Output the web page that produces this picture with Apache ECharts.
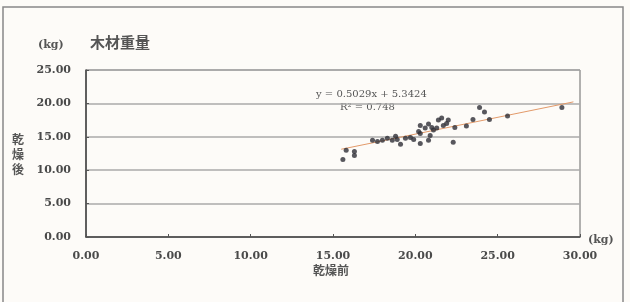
<!DOCTYPE html>
<html>
<head>
<meta charset="utf-8">
<script src="https://cdn.jsdelivr.net/npm/echarts@6/dist/echarts.min.js"></script>
<style>
  html, body { margin: 0; padding: 0; background: #fdfbf8; }
  #chart { width: 630px; height: 302px; }
</style>
</head>
<body>
<div id="chart"></div>
<script>
// weight before drying (x) / after drying (y), kg
const beforeDry = [15.6, 15.8, 16.3, 16.3, 17.4, 17.7, 18.0, 18.3, 18.6, 18.9, 19.1, 19.4, 19.9, 20.3, 20.8,
  20.2, 20.3, 20.6, 20.8, 21.0, 21.1, 21.4, 21.6, 21.7, 21.9, 22.0, 22.4, 22.3, 23.1, 23.5,
  23.9, 24.2, 24.5, 25.6, 28.9, 20.3, 20.9, 21.3, 19.7, 18.8];
const afterDry = [11.6, 13.0, 12.2, 12.8, 14.5, 14.3, 14.5, 14.8, 14.5, 14.6, 13.9, 14.8, 14.6, 14.0, 14.5,
  15.8, 16.7, 16.3, 16.9, 16.4, 16.0, 17.5, 17.8, 16.7, 17.0, 17.5, 16.4, 14.2, 16.6, 17.6,
  19.4, 18.7, 17.6, 18.1, 19.4, 15.5, 15.2, 16.3, 14.9, 15.1];
const trendX = [15.5, 29.6];
const slope = 0.5029, intercept = 5.3424;
const eqText = 'y = 0.5029x + 5.3424';
const r2Text = 'R² = 0.748';

const chart = echarts.init(document.getElementById('chart'));
const numFont = 'DejaVu Serif';

chart.setOption({
  backgroundColor: '#fdfbf8',
  animation: false,
  grid: { left: 86, top: 70, right: 50, bottom: 65, show: true, borderColor: '#666', borderWidth: 1 },
  xAxis: {
    type: 'value', min: 0, max: 30, interval: 5,
    axisLine: { lineStyle: { color: '#444', width: 1.5 } },
    axisTick: { show: true, inside: true, length: 3, lineStyle: { color: '#555' } },
    axisLabel: { color: '#4a4a4a', fontFamily: numFont, fontWeight: 'bold', fontSize: 11, margin: 14, formatter: v => v.toFixed(2) },
    splitLine: { show: false }
  },
  yAxis: {
    type: 'value', min: 0, max: 25, interval: 5,
    axisLine: { show: true, lineStyle: { color: '#444', width: 1.5 } },
    axisTick: { show: true, inside: true, length: 3, lineStyle: { color: '#555' } },
    axisLabel: { color: '#4a4a4a', fontFamily: numFont, fontWeight: 'bold', fontSize: 11, margin: 15, formatter: v => v.toFixed(2) },
    splitLine: { show: true, lineStyle: { color: '#aaa', width: 1.5 } }
  },
  series: [
    {
      type: 'line',
      data: trendX.map(x => [x, slope * x + intercept]),
      symbol: 'none',
      lineStyle: { color: '#e39a6a', width: 1 },
      z: 1
    },
    {
      type: 'scatter',
      data: beforeDry.map((x, i) => [x, afterDry[i]]),
      symbolSize: 5,
      itemStyle: { color: '#2e2e36' },
      z: 3
    }
  ],
  graphic: [
    { type: 'rect', shape: { x: 3, y: 7, width: 620, height: 300 }, style: { fill: 'none', stroke: '#888', lineWidth: 1.5 } },
    { type: 'text', left: 90, top: 35, style: { text: '木材重量', font: 'bold 15px "Noto Sans CJK JP"', fill: '#555' } },
    { type: 'text', left: 38, top: 40, style: { text: '(kg)', font: 'bold 11px "DejaVu Serif"', fill: '#555' } },
    { type: 'text', left: 588, top: 235, style: { text: '(kg)', font: 'bold 11px "DejaVu Serif"', fill: '#555' } },
    { type: 'text', left: 12, top: 132, style: { text: '乾\n燥\n後', font: 'bold 12px "Noto Sans CJK JP"', fill: '#555', lineHeight: 15 } },
    { type: 'text', left: 313, top: 264, style: { text: '乾燥前', font: 'bold 12px "Noto Sans CJK JP"', fill: '#555' } },
    { type: 'text', left: 316, top: 89, style: { text: eqText, font: '10px "DejaVu Serif"', fill: '#555' } },
    { type: 'text', left: 340, top: 102, style: { text: r2Text, font: '10px "DejaVu Serif"', fill: '#555' } }
  ]
});
</script>
</body>
</html>
